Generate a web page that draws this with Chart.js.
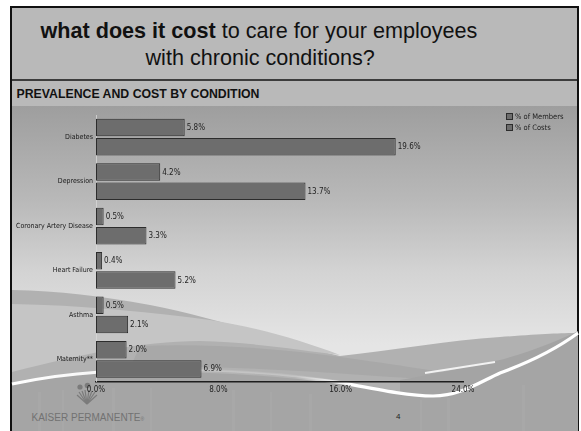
<!DOCTYPE html>
<html><head><meta charset="utf-8">
<script src="https://cdn.jsdelivr.net/npm/chart.js@4.4.1/dist/chart.umd.min.js"></script>
<style>
html,body{margin:0;padding:0;background:#fff;width:581px;height:431px;overflow:hidden;font-family:"Liberation Sans",Arial,sans-serif;}
.abs{position:absolute;}
#frame{left:10px;top:6px;width:569px;height:440px;box-sizing:border-box;border:2px solid #111;background:#b9b9b9;}
#divider{left:12px;top:79px;width:565px;height:2px;background:#3c3c3c;}
#t1,#t2{font-size:21.6px;line-height:21.6px;color:#111;white-space:nowrap;}
#t1{left:40.5px;top:19.5px;}
#t2{left:145.5px;top:46.8px;}
#sub{left:16.5px;top:87.6px;font-size:12.3px;line-height:12.3px;font-weight:bold;color:#111;white-space:nowrap;}
#kp{left:31.5px;top:413.2px;font-size:10px;line-height:10px;color:#727272;white-space:nowrap;}
#pg{left:396px;top:412px;font-size:8px;line-height:9px;color:#222;}
#wrap{left:12px;top:106px;width:566px;height:325px;}
</style></head>
<body>
<div id="frame" class="abs"></div>
<svg class="abs" style="left:0;top:0" width="581" height="431" viewBox="0 0 581 431">
<defs>
<linearGradient id="g1" x1="0" y1="106" x2="0" y2="345" gradientUnits="userSpaceOnUse">
<stop offset="0" stop-color="#9e9e9e"/>
<stop offset="0.4" stop-color="#b9b9b9"/>
<stop offset="0.69" stop-color="#d3d3d3"/>
<stop offset="1" stop-color="#e5e5e5"/>
</linearGradient>
<linearGradient id="wg" x1="12" y1="0" x2="578" y2="0" gradientUnits="userSpaceOnUse">
<stop offset="0" stop-color="#ffffff" stop-opacity="1"/>
<stop offset="0.16" stop-color="#ffffff" stop-opacity="0.9"/>
<stop offset="0.3" stop-color="#ffffff" stop-opacity="0.15"/>
<stop offset="0.5" stop-color="#ffffff" stop-opacity="0.15"/>
<stop offset="0.6" stop-color="#ffffff" stop-opacity="1"/>
<stop offset="1" stop-color="#ffffff" stop-opacity="1"/>
</linearGradient>
</defs>
<rect x="12" y="106" width="565" height="325" fill="url(#g1)"/>
<path d="M12,290 C60,291 100,296 150,305 C220,318 290,345 340,356 C390,351 450,340 500,337 C540,334 560,333 578,333 L578,431 L12,431 Z" fill="#b1b1b1"/>
<path d="M12,304 C80,305 150,312 210,320 C260,328 300,340 340,355 C300,350 250,342 200,341 C140,341 80,355 12,372 Z" fill="#c5c5c5"/>
<path d="M140,346 C220,343 290,350 340,357 C400,365 440,372 480,378 L480,383 C400,378 300,369 200,367 C170,367 150,367 130,368 Z" fill="#a8a8a8"/>
<path d="M100,369 C200,366 280,371 343,381 L343,385 C280,380 200,379 100,381 Z" fill="#bababa"/>
<path d="M400,380 C440,373 470,366 500,360 C530,352 560,340 578,331 L578,431 L400,431 Z" fill="#a4a4a4"/>
<path d="M12,384 C40,378 70,374 100,372 C200,368 280,374 343,383 C380,390 410,396 433,396 C460,396 480,382 500,373 C530,362 555,350 578,333 L578,431 L12,431 Z" fill="#a5a5a5"/>
<g fill="#b4b4b4" opacity="0.25">
<rect x="38" y="392" width="3" height="39"/><rect x="62" y="390" width="2" height="41"/>
<rect x="112" y="388" width="3" height="43"/><rect x="150" y="388" width="2" height="43"/>
<rect x="232" y="390" width="3" height="41"/><rect x="270" y="392" width="2" height="39"/>
<rect x="309" y="394" width="3" height="37"/><rect x="420" y="400" width="2" height="31"/>
<rect x="447" y="398" width="3" height="33"/><rect x="522" y="385" width="3" height="46"/>
</g>
<path d="M12,384 C40,378 70,374 100,372 C200,368 280,374 343,383 C380,390 410,396 433,396 C460,396 480,382 500,373 C530,362 555,350 578,333" fill="none" stroke="url(#wg)" stroke-width="3.2"/>
<path d="M425,373 C450,369 470,366 495,362" fill="none" stroke="#f2f2f2" stroke-width="1.8"/>
<g stroke="#7b7b7b" stroke-width="1.2">
<line x1="87" y1="404" x2="77" y2="395"/><line x1="87" y1="404" x2="79" y2="392"/>
<line x1="87" y1="404" x2="82" y2="391"/><line x1="87" y1="404" x2="85" y2="390"/>
<line x1="87" y1="404" x2="89" y2="390"/><line x1="87" y1="404" x2="92" y2="391"/>
<line x1="87" y1="404" x2="95" y2="392"/><line x1="87" y1="404" x2="97" y2="395"/>
</g>
<circle cx="80" cy="387" r="2.6" fill="#7b7b7b"/><circle cx="87.5" cy="385.5" r="2.8" fill="#7b7b7b"/>
</svg>
<div id="divider" class="abs"></div>
<div id="t1" class="abs"><b>what does it cost</b> to care for your employees</div>
<div id="t2" class="abs">with chronic conditions?</div>
<div id="sub" class="abs">PREVALENCE AND COST BY CONDITION</div>
<div id="kp" class="abs">KAISER PERMANENTE<span style="font-size:5px">®</span></div>
<div id="pg" class="abs">4</div>
<div id="wrap" class="abs"><canvas id="c" width="566" height="325"></canvas></div>
<script>
const categories = ["Diabetes", "Depression", "Coronary Artery Disease", "Heart Failure", "Asthma", "Maternity**"];
const membersPct = [5.8, 4.2, 0.5, 0.4, 0.5, 2.0];
const costsPct = [19.6, 13.7, 3.3, 5.2, 2.1, 6.9];
const seriesNames = ["% of Members", "% of Costs"];
const xTicks = [0, 8, 16, 24];

const SMALL = '"DejaVu Sans Condensed","Liberation Sans Narrow","Liberation Sans",Arial,sans-serif';

const valueLabels = {
  id: 'valueLabels',
  afterDatasetsDraw(chart) {
    const ctx = chart.ctx;
    ctx.save();
    ctx.font = '8px ' + SMALL;
    ctx.fillStyle = '#222';
    ctx.textBaseline = 'middle';
    ctx.textAlign = 'left';
    chart.data.datasets.forEach((ds, i) => {
      chart.getDatasetMeta(i).data.forEach((bar, j) => {
        ctx.fillText(ds.data[j].toFixed(1) + '%', bar.x + 2, bar.y + 0.5);
      });
    });
    ctx.restore();
  }
};

const sideLegend = {
  id: 'sideLegend',
  afterDraw(chart) {
    const ctx = chart.ctx;
    const x0 = chart.chartArea.right + 43;
    const y0 = chart.chartArea.top - 2;
    ctx.save();
    ctx.font = '7.5px ' + SMALL;
    ctx.textBaseline = 'middle';
    ctx.textAlign = 'left';
    chart.data.datasets.forEach((ds, i) => {
      const y = y0 + i * 11;
      ctx.fillStyle = ds.backgroundColor;
      ctx.fillRect(x0, y, 7, 7);
      ctx.strokeStyle = ds.borderColor;
      ctx.lineWidth = 1;
      ctx.strokeRect(x0 + 0.5, y + 0.5, 6, 6);
      ctx.fillStyle = '#222';
      ctx.fillText(ds.label, x0 + 9, y + 4);
    });
    ctx.restore();
  }
};

new Chart(document.getElementById('c'), {
  type: 'bar',
  data: {
    labels: categories,
    datasets: [
      { label: seriesNames[0], data: membersPct, backgroundColor: '#6d6d6d', borderColor: '#2c2c2c', borderWidth: 1, borderSkipped: false },
      { label: seriesNames[1], data: costsPct, backgroundColor: '#6d6d6d', borderColor: '#2c2c2c', borderWidth: 1, borderSkipped: false }
    ]
  },
  options: {
    indexAxis: 'y',
    responsive: false,
    animation: false,
    devicePixelRatio: 1,
    categoryPercentage: 0.865,
    barPercentage: 0.91,
    layout: { padding: { top: 9, right: 115, bottom: 0, left: 0 } },
    plugins: { legend: { display: false }, tooltip: { enabled: false } },
    scales: {
      x: {
        min: 0, max: 24,
        afterBuildTicks(s) { s.ticks = xTicks.map(v => ({ value: v })); },
        afterFit(s) { s.height = 49.5; },
        grid: { display: false, drawTicks: false },
        border: { display: true, color: '#1e1e1e', width: 1.5 },
        ticks: { color: '#222', font: { size: 8, family: SMALL }, padding: 4, callback: v => Number(v).toFixed(1) + '%' }
      },
      y: {
        afterFit(s) { s.width = 84; },
        grid: { display: false, drawTicks: false },
        border: { display: true, color: 'rgba(215,215,215,0.8)', width: 1 },
        ticks: { color: '#1a1a1a', font: { size: 7, family: SMALL }, padding: 3 }
      }
    }
  },
  plugins: [valueLabels, sideLegend]
});
</script>
</body></html>
